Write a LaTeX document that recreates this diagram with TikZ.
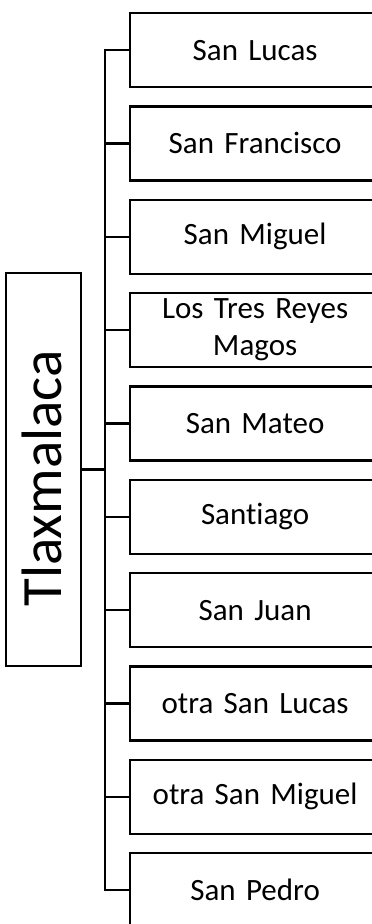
\documentclass[tikz,border=0pt]{standalone}
\usepackage{fontspec}
\setmainfont{Carlito}[Ligatures=NoCommon]
\begin{document}
\begin{tikzpicture}[x=1pt,y=-1pt,line width=2.2pt,
  leaf/.style={draw, anchor=north west, minimum width=250pt, minimum height=74pt,
    inner sep=0pt, align=center, text width=240pt, font=\fontsize{31}{37}\selectfont},
  rootbox/.style={draw, minimum width=75pt, minimum height=393pt, inner sep=0pt},
  rootlbl/.style={rotate=90, inner sep=0pt, font=\fontsize{57}{60}\selectfont},
  conn/.style={line width=2.2pt}]
\useasboundingbox (0,0) rectangle (372,924);
\clip (0,0) rectangle (372,924);
\coordinate (trunk) at (105,0);
\node[leaf] (b1) at (129,12) {San Lucas};
\node[leaf] (b2) at (129,105.33) {San Francisco};
\node[leaf] (b3) at (129,198.67) {San Miguel};
\node[leaf] (b4) at (129,292) {Los Tres Reyes\\Magos};
\node[leaf] (b5) at (129,385.33) {San Mateo};
\node[leaf] (b6) at (129,478.67) {Santiago};
\node[leaf] (b7) at (129,572) {San Juan};
\node[leaf] (b8) at (129,665.33) {otra San Lucas};
\node[leaf] (b9) at (129,758.67) {otra San Miguel};
\node[leaf] (b10) at (129,852) {San Pedro};
\node[rootbox] (root) at (43.5,469.5) {};
\node[rootlbl] (rootlabel) at (41.5,478.5) {Tlaxmalaca};
\draw[conn] (b1.west) -- (b1.west -| trunk) -- (b10.west -| trunk) -- (b10.west);
\foreach \i in {2,...,9} {
  \draw[conn] (b\i.west) -- (b\i.west -| trunk);
}
\draw[conn] (root.east) -- (root.east -| trunk);
\end{tikzpicture}
\end{document}
